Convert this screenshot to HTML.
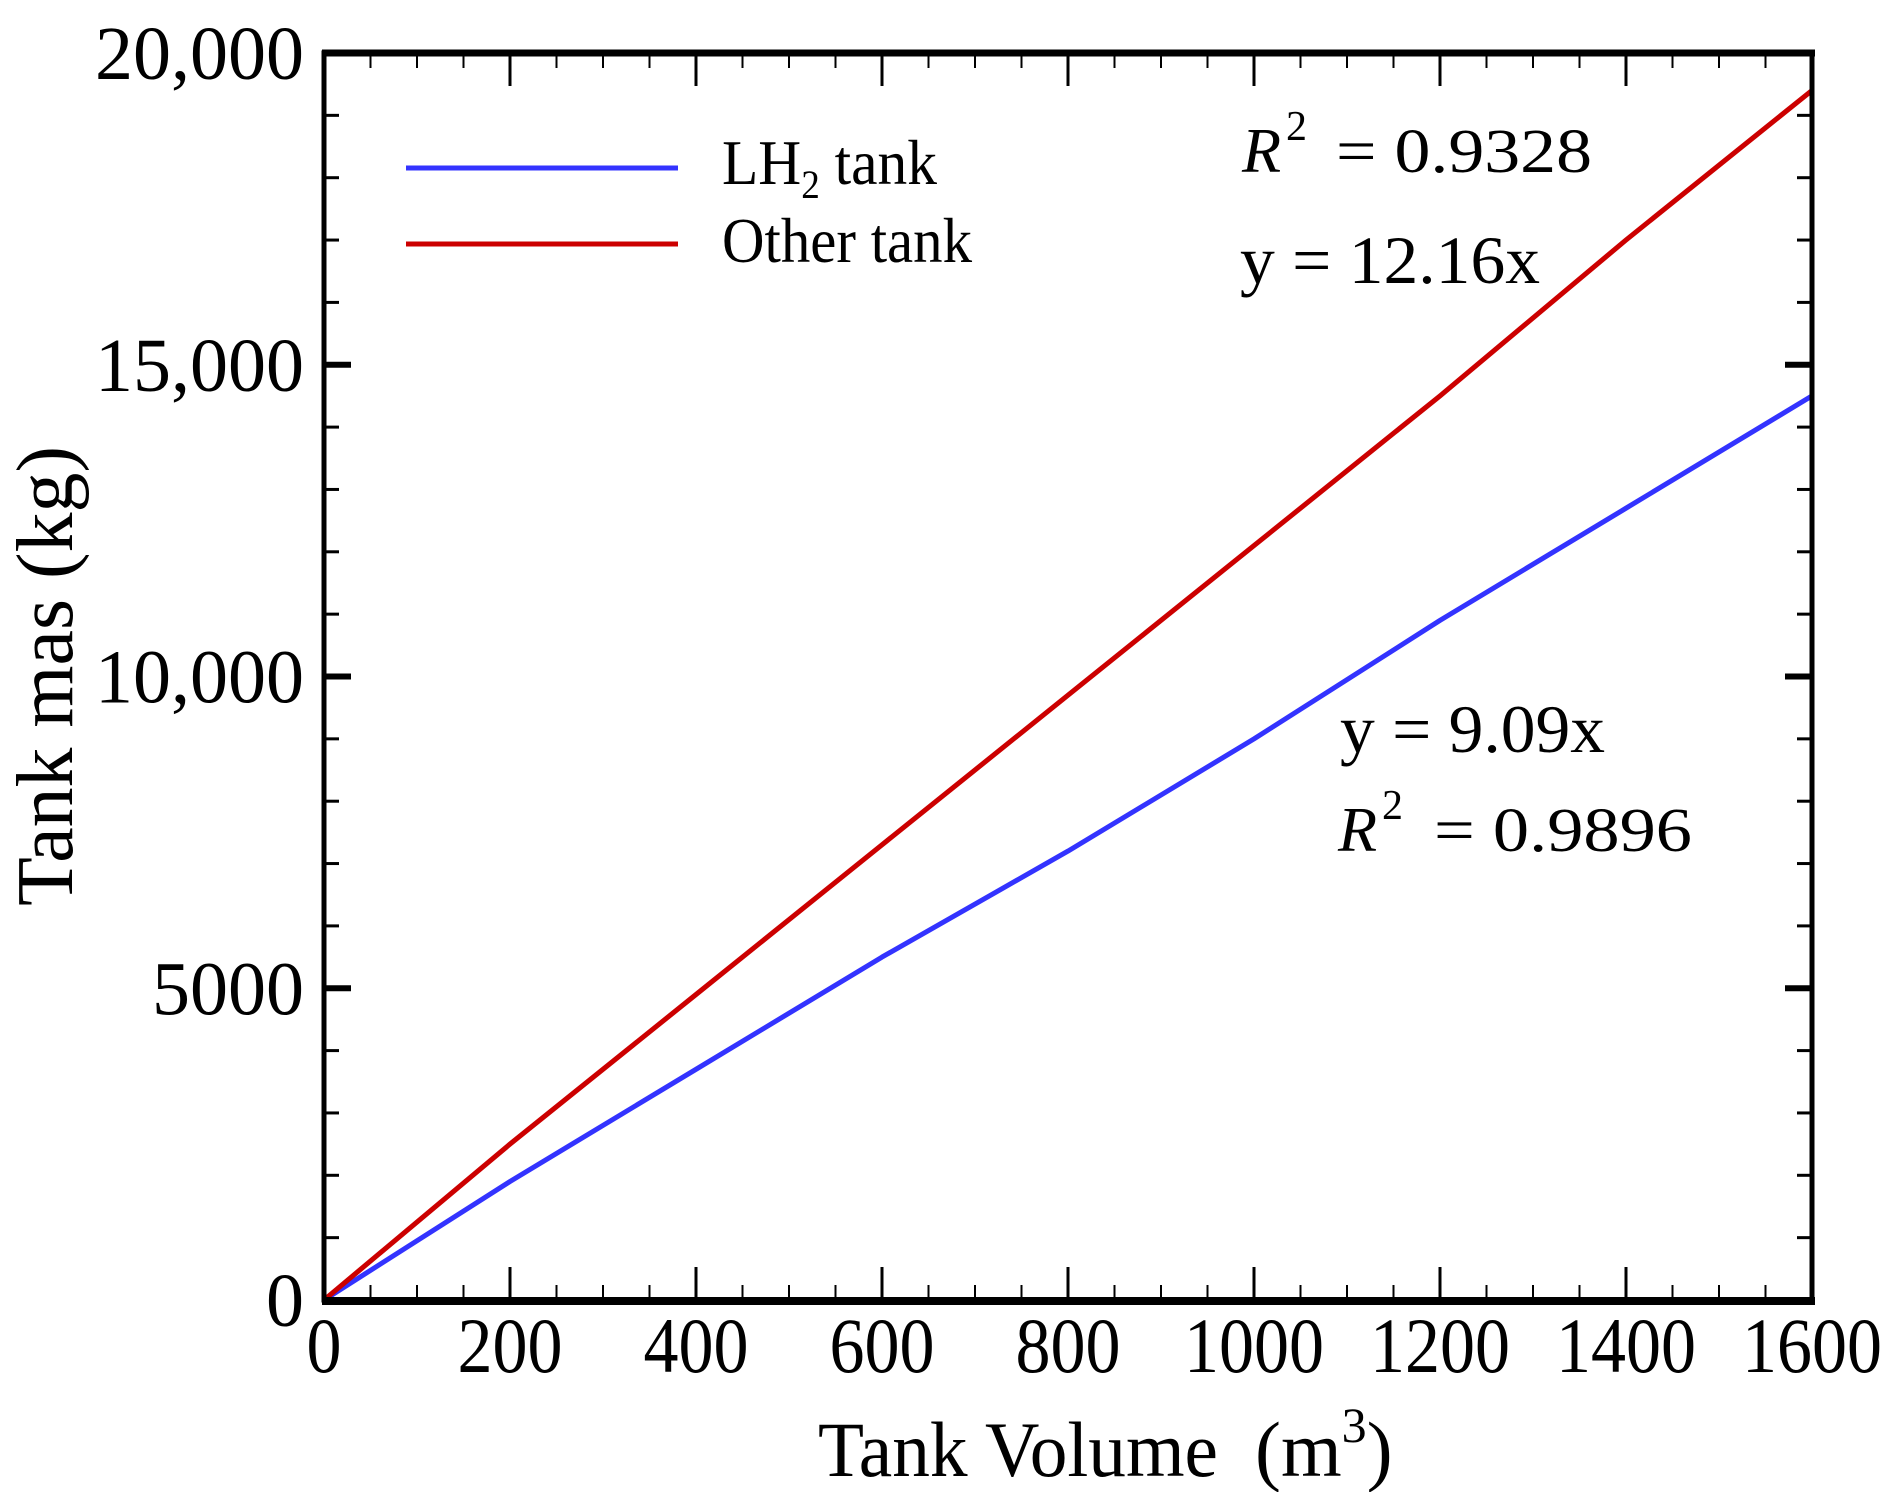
<!DOCTYPE html>
<html><head><meta charset="utf-8"><style>
html,body{margin:0;padding:0;background:#fff;}
svg{display:block;}
text{font-family:"Liberation Serif",serif;fill:#000;}
</style></head><body>
<svg id="chart" width="1904" height="1492" viewBox="0 0 1904 1492" xmlns="http://www.w3.org/2000/svg">
<g id="grid-ticks"></g>
<g id="series"></g>
<rect x="324" y="53" width="1488" height="1247" fill="none" stroke="#000" stroke-width="5"/>
<line x1="322" y1="1301" x2="1815" y2="1301" stroke="#000" stroke-width="8"/>
<line x1="322" y1="53" x2="1815" y2="53" stroke="#000" stroke-width="7"/>
<g id="xlabels"></g>
<g id="ylabels"></g>
<text x="818" y="1476" font-size="78" textLength="400" lengthAdjust="spacingAndGlyphs">Tank Volume</text>
<text x="1255" y="1476" font-size="78">(m<tspan font-size="50" dy="-34">3</tspan><tspan dy="34">)</tspan></text>
<text transform="translate(72,676) rotate(-90)" text-anchor="middle" font-size="80" textLength="460" lengthAdjust="spacingAndGlyphs">Tank mas  (kg)</text>
<g>
<line x1="406" y1="168" x2="678" y2="168" stroke="#3333ff" stroke-width="5"/>
<text x="722" y="184" font-size="64" textLength="215" lengthAdjust="spacingAndGlyphs">LH<tspan font-size="40" dy="14">2</tspan><tspan dy="-14"> tank</tspan></text>
<line x1="406" y1="244" x2="678" y2="244" stroke="#cc0000" stroke-width="5"/>
<text x="722" y="262" font-size="64" textLength="250" lengthAdjust="spacingAndGlyphs">Other tank</text>
</g>
<g>
<text x="1242" y="172" font-size="64" font-style="italic">R</text>
<text x="1286" y="140" font-size="42" font-family="Liberation Sans">2</text>
<text x="1336" y="172" font-size="62" font-family="Liberation Sans" textLength="256" lengthAdjust="spacingAndGlyphs">= 0.9328</text>
</g>
<text x="1240" y="283" font-size="68" textLength="300" lengthAdjust="spacingAndGlyphs">y = 12.16x</text>
<text x="1340" y="752" font-size="68" textLength="265" lengthAdjust="spacingAndGlyphs">y = 9.09x</text>
<g>
<text x="1338" y="851" font-size="64" font-style="italic">R</text>
<text x="1382" y="819" font-size="42" font-family="Liberation Sans">2</text>
<text x="1434" y="851" font-size="62" font-family="Liberation Sans" textLength="258" lengthAdjust="spacingAndGlyphs">= 0.9896</text>
</g>
</svg>
<script>
const xValues = [0, 200, 400, 600, 800, 1000, 1200, 1400, 1600];
const lh2Mass = [0, 1900, 3700, 5500, 7200, 9000, 10900, 12700, 14500];
const otherMass = [0, 2500, 4900, 7300, 9700, 12100, 14500, 17000, 19400];
const xTickLabels = ['0','200','400','600','800','1000','1200','1400','1600'];
const yTickValues = [0, 5000, 10000, 15000, 20000];
const yTickLabels = ['0','5000','10,000','15,000','20,000'];

const X0=324, X1=1812, Y0=1300, Y1=53;
const sx = v => X0 + (v/1600)*(X1-X0);
const sy = v => Y0 - (v/20000)*(Y0-Y1);
const NS='http://www.w3.org/2000/svg';
function mk(tag, attrs, parent){const e=document.createElementNS(NS,tag);for(const k in attrs)e.setAttribute(k,attrs[k]);parent.appendChild(e);return e;}

const ticks=document.getElementById('grid-ticks');
for(let v=0; v<=1600; v+=50){
  const major = v%200===0; const len = major?33:15; const x=sx(v);
  const t1=mk('line',{x1:x,y1:Y0,x2:x,y2:Y0-len,stroke:'#000','stroke-width':major?3:2},ticks);
  
  
  const t2=mk('line',{x1:x,y1:Y1,x2:x,y2:Y1+len,stroke:'#000','stroke-width':major?3:2},ticks);
  
  
}
for(let v=0; v<=20000; v+=1000){
  const major = v%5000===0; const len = major?27:15; const y=sy(v);
  const t1=mk('line',{x1:X0,y1:y,x2:X0+len,y2:y,stroke:'#000','stroke-width':major?6:3},ticks);
  
  
  const t2=mk('line',{x1:X1,y1:y,x2:X1-len,y2:y,stroke:'#000','stroke-width':major?6:3},ticks);
  
  
}
const xl=document.getElementById('xlabels');
xValues.forEach((v,i)=>{
  const lab=xTickLabels[i];
  const t=mk('text',{x:sx(v),y:1372,'text-anchor':'middle','font-size':78,textLength:lab.length*35,lengthAdjust:'spacingAndGlyphs'},xl);
  
  
  t.textContent=lab;
});
const yl=document.getElementById('ylabels');
yTickValues.forEach((v,i)=>{
  const t=mk('text',{x:304,y:sy(v)+26,'text-anchor':'end','font-size':76},yl);
  
  
  t.textContent=yTickLabels[i];
});
const sg=document.getElementById('series');
function line(vals,color,name){
  const d=vals.map((v,i)=>(i?'L':'M')+sx(xValues[i]).toFixed(1)+' '+sy(v).toFixed(1)).join(' ');
  const p=mk('path',{d:d,fill:'none',stroke:color,'stroke-width':5,'stroke-linejoin':'round'},sg);
  
  
}
line(lh2Mass,'#3333ff','lh2-tank-line');
line(otherMass,'#cc0000','other-tank-line');
</script>
</body></html>
